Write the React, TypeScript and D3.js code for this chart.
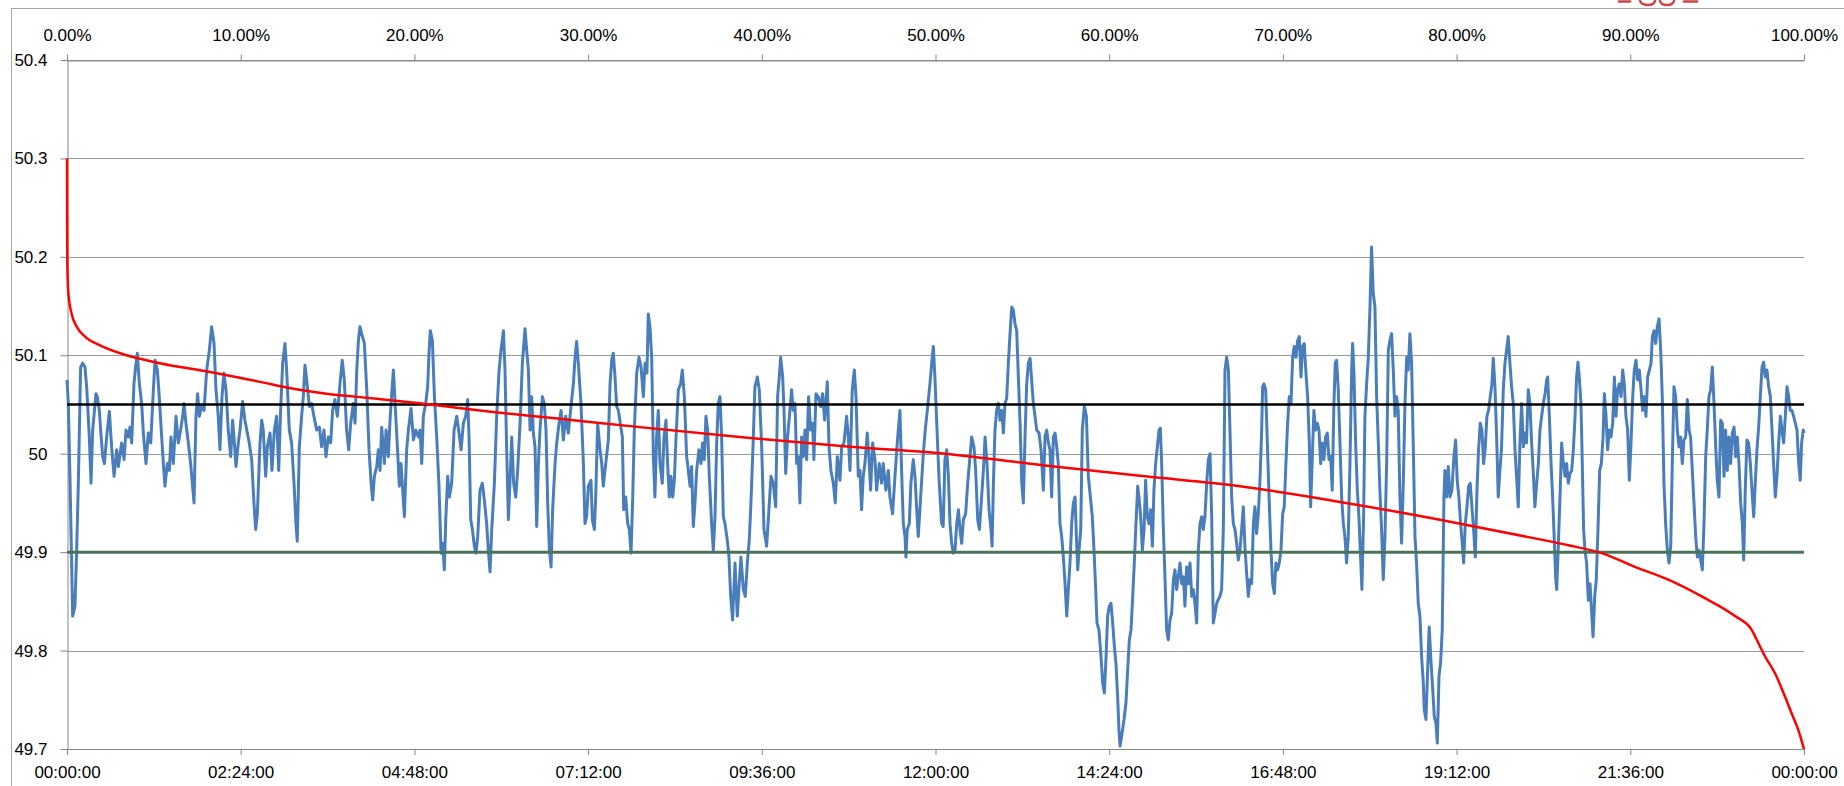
import { useEffect, useRef } from "react";
import * as d3 from "d3";

// grid frequency over one day: [minute of day, Hz]
const trace00to04: [number, number][] = [
  [0, 50.075], [1.1, 50.051], [2.5, 49.973], [4.7, 49.835], [6.6, 49.845], [8, 49.902], [9.4, 49.97], [11.3, 50.088],
  [13, 50.092], [14.9, 50.088], [16.3, 50.068], [18.5, 50.017], [19.9, 49.97], [21.3, 50.024], [24, 50.061], [25.1, 50.058],
  [26.8, 50.044], [27.9, 50.024], [29.6, 49.997], [31, 49.99], [32.9, 50.017], [35.1, 50.043], [37, 50.007], [39, 49.977],
  [41.2, 50.004], [42.6, 49.987], [45.3, 50.011], [47.3, 49.994], [48.9, 50.024], [50.8, 50.017], [52.2, 50.027], [53.6, 50.011],
  [55.5, 50.071], [56.6, 50.085], [58.3, 50.102], [60, 50.071], [61.9, 50.051], [63.3, 50.021], [65.5, 49.99], [67.4, 50.021],
  [69.4, 50.011], [71.6, 50.065], [73, 50.095], [74.9, 50.085], [76.3, 50.061], [78.5, 50.017], [79.9, 49.99], [81.2, 49.967],
  [83.2, 49.99], [84.8, 49.983], [86.2, 50.017], [88.1, 49.99], [90.4, 50.038], [92.3, 50.011], [94.2, 50.024], [95.9, 50.038],
  [97, 50.051], [98.6, 50.031], [100.6, 50.011], [102.5, 49.99], [103.9, 49.97], [105.3, 49.95], [106.9, 50.038], [108.3, 50.061],
  [109.7, 50.038], [111.6, 50.048], [113.6, 50.044], [115.8, 50.085], [118, 50.105], [119.9, 50.129], [121.9, 50.112], [123.5, 50.065],
  [125.4, 50.038], [126.8, 50.004], [128.5, 50.058], [130.1, 50.082], [131.8, 50.065], [133.7, 50.024], [135.7, 49.997], [137.3, 50.034],
  [138.4, 50.017], [140.1, 49.987], [142, 50.011], [143.4, 50.024], [145.6, 50.053], [147.5, 50.034], [149.5, 50.021], [151.1, 50.011],
  [153.1, 49.994], [155, 49.95], [156.4, 49.923], [157.8, 49.939], [160, 50.011], [161.4, 50.034], [162.7, 50.024], [164.7, 49.977],
  [166.1, 50.007], [168.3, 50.021], [169.9, 49.983], [171.9, 50.024], [173.8, 50.038], [175.5, 49.983], [177.1, 50.044], [178.8, 50.092],
  [180.7, 50.112], [182.1, 50.085], [184.3, 50.024], [186.2, 50.011], [188.2, 49.97], [189.8, 49.929], [190.9, 49.911], [192.6, 50.007],
  [194.5, 50.038], [195.9, 50.058], [197.3, 50.09], [198.7, 50.075], [200.9, 50.048], [202.8, 50.051], [204.7, 50.038], [207, 50.024],
  [209.2, 50.027], [211.1, 50.007], [213, 50.024], [214.7, 49.997], [216.6, 50.017], [218.6, 50.011], [220.2, 50.044], [222.1, 50.055],
  [224.1, 50.038], [226.3, 50.071], [228.2, 50.095], [229.9, 50.075], [231.8, 50.024], [233.5, 50.004], [235.2, 50.031], [237.3, 50.051],
];

const trace04to08: [number, number][] = [
  [238.8, 50.031], [240.2, 50.085], [241.6, 50.115], [242.9, 50.129], [244.3, 50.122], [246.5, 50.112], [248.5, 50.065], [250.4, 50.004],
  [252.1, 49.97], [253.4, 49.953], [254.8, 49.977], [256.8, 49.987], [258.1, 50.004], [259.5, 49.983], [260.9, 50.027], [263.1, 49.99],
  [264.5, 50.024], [266.4, 49.997], [267.8, 50.034], [269.2, 50.061], [270.6, 50.085], [272, 50.051], [273.9, 50.007], [275.5, 49.967],
  [276.9, 49.99], [278.3, 49.963], [279.7, 49.936], [281.6, 50.004], [283, 50.024], [285.2, 50.046], [287.2, 50.014], [289.1, 50.024],
  [291.3, 50.017], [292.7, 50.024], [294.1, 49.99], [295.4, 50.038], [297.4, 50.051], [299, 50.068], [300.1, 50.102], [301.2, 50.125],
  [302.9, 50.115], [304.6, 50.058], [306.5, 50.017], [308.4, 49.967], [310.1, 49.899], [311.5, 49.909], [312.8, 49.882], [314, 49.933],
  [315.6, 49.977], [317, 49.956], [318.9, 49.97], [320.9, 50.024], [323.1, 50.038], [325, 50.021], [326.7, 50.004], [328.6, 50.031],
  [330.5, 50.038], [332.2, 50.055], [333.3, 50.017], [334.7, 49.933], [336.1, 49.923], [337.7, 49.906], [339.1, 49.899], [340.5, 49.916],
  [342.4, 49.963], [344.3, 49.97], [346, 49.953], [347.9, 49.929], [349.3, 49.902], [350.7, 49.88], [352.1, 49.923], [354.3, 49.97],
  [356.2, 50.038], [358.2, 50.085], [359.8, 50.105], [361.8, 50.125], [363.1, 50.085], [364.5, 50.004], [365.9, 49.933], [367.3, 49.973],
  [368.7, 50.017], [370.3, 49.97], [372, 49.956], [373.6, 49.983], [375.6, 50.031], [377.5, 50.092], [379.7, 50.127], [381.1, 50.105],
  [382.5, 50.085], [383.9, 50.024], [385.2, 50.058], [386.6, 50.021], [388, 50.007], [389.4, 49.926], [390.8, 49.99], [392.1, 50.024],
  [394.1, 50.058], [395.7, 50.051], [397.1, 50.024], [398.5, 49.95], [399.9, 49.902], [401.3, 49.885], [402.6, 49.943], [404.6, 49.99],
  [406, 50.011], [407.9, 50.031], [409.6, 50.044], [411.5, 50.014], [413.4, 50.038], [415.6, 50.021], [417.8, 50.048], [419.8, 50.071],
  [421.2, 50.098], [422.5, 50.114], [423.9, 50.092], [426.1, 50.051], [428.1, 49.99], [429.4, 49.929], [430.8, 49.936], [432.2, 49.967],
  [434.4, 49.973], [435.5, 49.933], [437.2, 49.923], [438.3, 49.956], [439.9, 50.031], [441.9, 50.004], [443.3, 49.99], [444.6, 49.967],
  [446.6, 49.99], [448.8, 50.014], [450.2, 50.071], [451.6, 50.095], [452.9, 50.102], [454.3, 50.078], [455.7, 50.048], [457.1, 50.044],
  [458.7, 50.031], [460.4, 50.017], [461.5, 49.943], [463.2, 49.956], [464.8, 49.929], [466.2, 49.923], [467.6, 49.899], [469, 49.956],
  [470.3, 50.024], [472.3, 50.082], [474.2, 50.098], [475.9, 50.088], [477.8, 50.058], [479.2, 50.092], [480.8, 50.082], [481.9, 50.142],
  [483.3, 50.129],
];

const trace08to12: [number, number][] = [
  [484.7, 50.098], [486.1, 49.997], [487.4, 49.956], [488.8, 50.017], [490.2, 50.044], [491.6, 49.99], [493.5, 49.97], [494.9, 50.017],
  [496.6, 50.034], [497.9, 49.99], [499.3, 49.956], [500.7, 49.977], [502.1, 49.956], [503.5, 49.973], [504.9, 50.017], [506.8, 50.065],
  [508.7, 50.071], [510.1, 50.085], [511.8, 50.058], [513.7, 49.997], [515.1, 49.983], [516.5, 49.967], [517.8, 49.987], [519.2, 49.926],
  [520.6, 49.95], [522, 49.983], [523.9, 50.004], [525.6, 49.99], [526.9, 50.011], [528.3, 49.994], [529.7, 50.038], [531.1, 50.024],
  [532.5, 49.977], [534.4, 49.929], [535.8, 49.902], [537.2, 49.936], [538.6, 50.011], [539.9, 50.051], [541.3, 50.058], [542.7, 50.017],
  [544.1, 49.936], [545.5, 49.929], [547.4, 49.912], [548.8, 49.895], [550.2, 49.855], [551.8, 49.831], [553.8, 49.889], [555.7, 49.835],
  [557.3, 49.868], [558.7, 49.895], [560.7, 49.862], [562.3, 49.855], [564, 49.889], [565.6, 49.912], [567, 49.95], [569, 50.017],
  [570.3, 50.068], [572.3, 50.078], [573.9, 50.065], [575.9, 50.007], [577.8, 49.923], [580, 49.906], [581.9, 49.943], [583.6, 49.977],
  [585.5, 49.97], [587.5, 49.946], [589.1, 50.058], [590.5, 50.078], [591.6, 50.098], [593.3, 50.078], [594.4, 50.044], [595.8, 49.98],
  [597.4, 50.017], [599.3, 50.044], [600.7, 50.065], [602.1, 50.044], [603.5, 50.051], [604.9, 49.99], [606.3, 49.997], [607.6, 49.95],
  [609, 50.017], [610.4, 49.997], [611.8, 50.024], [613.2, 49.994], [614.8, 50.058], [616.5, 50.024], [618.1, 50.031], [619.2, 49.994],
  [620.9, 50.061], [622.8, 50.058], [624.8, 50.048], [626.4, 50.061], [628.1, 50.034], [630.3, 50.073], [631.7, 50.007], [633.3, 49.983],
  [635.3, 49.97], [636.9, 49.95], [638.6, 49.997], [640.8, 49.973], [642.2, 50.007], [644.1, 50.011], [646.3, 50.038], [647.7, 50.017],
  [649.1, 49.983], [651, 50.065], [652.7, 50.085], [654.1, 50.058], [656, 49.977], [657.4, 49.983], [658.7, 49.943], [660.1, 49.977],
  [661.5, 49.99], [663.4, 50.021], [664.8, 49.997], [666.2, 49.963], [667.9, 50.011], [669.8, 49.994], [671.2, 49.963], [673.4, 49.99],
  [675.3, 49.97], [676.7, 49.99], [678.9, 49.963], [680.9, 49.983], [682.2, 49.956], [684.4, 49.939], [686.4, 49.977], [688.3, 50.011],
  [690.5, 50.044], [691.9, 49.983], [693.3, 49.929], [694.7, 49.916], [695.5, 49.895], [696.6, 49.923], [698.3, 49.929], [699.6, 49.97],
  [701.6, 49.994], [703, 49.977], [704.3, 49.946], [705.7, 49.916], [707.7, 49.956], [709.9, 50.0], [711.5, 50.024], [713.2, 50.044],
  [715.4, 50.071], [717.1, 50.095], [718.2, 50.109], [719.5, 50.078], [721.5, 50.017], [723.1, 49.97], [725.1, 49.929], [726.4, 49.926],
  [727.8, 49.994],
];

const trace12to16: [number, number][] = [
  [729.3, 50.004], [730.7, 49.977], [732, 49.929], [733.4, 49.909], [734.8, 49.899], [736.2, 49.902], [737.6, 49.929], [739, 49.943],
  [740.3, 49.923], [741.7, 49.909], [743.1, 49.933], [745, 49.939], [746.7, 49.97], [748.1, 49.99], [750, 50.017], [751.9, 50.007],
  [753.3, 49.983], [755, 49.933], [756.4, 49.923], [757.7, 49.946], [759.7, 49.983], [761.1, 50.017], [762.7, 49.99], [764.4, 49.943],
  [766, 49.923], [766.9, 49.906], [768, 49.97], [769.3, 50.024], [770.7, 50.044], [772.1, 50.051], [773.5, 50.034], [774.9, 50.044],
  [776.3, 50.021], [777.6, 50.051], [779, 50.056], [780.4, 50.092], [781.8, 50.122], [783.2, 50.149], [784.5, 50.146], [785.9, 50.132],
  [787.3, 50.125], [788.7, 50.078], [790.1, 50.031], [791.5, 49.97], [792.8, 49.95], [794.2, 50.017], [795.6, 50.071], [797, 50.092],
  [798.4, 50.097], [799.7, 50.075], [801.1, 50.051], [802.5, 50.038], [803.9, 50.024], [805.8, 50.021], [807.5, 50.004], [809.4, 49.963],
  [810.8, 50.017], [812.2, 50.024], [813.6, 50.011], [814.9, 50.004], [816.3, 49.956], [817.7, 50.017], [819.1, 50.021], [820.5, 50.007],
  [821.8, 49.99], [823.2, 49.929], [824.6, 49.916], [826, 49.895], [827.4, 49.868], [828.8, 49.835], [830.1, 49.862], [831.5, 49.889],
  [832.9, 49.929], [834.3, 49.95], [835.7, 49.956], [837, 49.909], [837.9, 49.882], [839, 49.902], [840.4, 49.923], [841.7, 50.024],
  [843.4, 50.048], [845.1, 50.038], [846.7, 49.977], [848.4, 49.956], [850, 49.936], [851.4, 49.902], [852.8, 49.862], [853.9, 49.828],
  [855.5, 49.821], [857.2, 49.794], [858.6, 49.767], [860, 49.757], [861.4, 49.794], [862.7, 49.835], [864.1, 49.845], [865.5, 49.848],
  [866.9, 49.828], [868.3, 49.804], [869.6, 49.787], [871, 49.753], [872.1, 49.719], [873, 49.703], [874.3, 49.713], [876.3, 49.73],
  [877.9, 49.747], [879.3, 49.78], [880.7, 49.811], [882.1, 49.821], [883.5, 49.855], [884.8, 49.889], [886.2, 49.929], [887.6, 49.967],
  [888.7, 49.956], [890.1, 49.936], [891.5, 49.902], [892.9, 49.923], [894.2, 49.973], [895.6, 49.936], [897, 49.929], [898.4, 49.943],
  [899.8, 49.906], [901.1, 49.963], [902.5, 49.99], [903.9, 50.007], [905.3, 50.024], [906.4, 50.026], [907.5, 49.99], [908.9, 49.923],
  [910.3, 49.872], [911.6, 49.821], [913, 49.811], [914.4, 49.831], [915.8, 49.838], [917.2, 49.872], [918.5, 49.882], [919.9, 49.862],
  [921.3, 49.875], [922.7, 49.889], [924.1, 49.868], [925.5, 49.875], [926.8, 49.845], [928.2, 49.885], [929.6, 49.868], [931, 49.889],
  [932.4, 49.855], [933.7, 49.862], [935.1, 49.848], [936.5, 49.828], [937.9, 49.902], [939.3, 49.929], [940.7, 49.936], [942, 49.923],
  [943.4, 49.936], [944.8, 49.97], [946.2, 49.994], [947.6, 50.0], [948.9, 49.939], [950.3, 49.828], [951.7, 49.838], [953.1, 49.848],
  [954.5, 49.852], [955.8, 49.855], [957.2, 49.862], [958.6, 49.923], [960, 50.085], [961.4, 50.098], [962.8, 50.085], [964.1, 50.024],
  [965.5, 49.956], [966.9, 49.929], [968.3, 49.923], [969.7, 49.909], [971, 49.892], [972.4, 49.902],
];

const trace16to20: [number, number][] = [
  [973.8, 49.923], [975.2, 49.946], [976.5, 49.906], [977.9, 49.879], [979.3, 49.855], [980.7, 49.872], [982.1, 49.868], [983.5, 49.929],
  [984.8, 49.946], [986.2, 49.919], [987.6, 49.939], [989, 49.973], [990.4, 50.024], [991.2, 50.068], [992.3, 50.071], [993.7, 50.065],
  [995.1, 50.011], [996.7, 49.95], [998.1, 49.902], [999.5, 49.868], [1000.9, 49.858], [1002.2, 49.889], [1003.6, 49.882], [1005, 49.889],
  [1006.4, 49.902], [1007.8, 49.939], [1009.1, 49.946], [1010.5, 49.99], [1011.9, 50.031], [1013.3, 50.058], [1014.7, 50.051], [1016.1, 50.098],
  [1017.4, 50.109], [1018.8, 50.098], [1020.2, 50.115], [1021.6, 50.119], [1023, 50.078], [1024.3, 50.109], [1025.7, 50.112], [1027.1, 50.082],
  [1028.5, 50.058], [1029.9, 50.011], [1031, 49.946], [1032.4, 49.997], [1033.7, 50.044], [1035.1, 50.024], [1036.5, 50.031], [1037.9, 50.024],
  [1039.3, 49.99], [1040.6, 50.011], [1042, 49.994], [1043.4, 50.017], [1044.8, 50.021], [1046.2, 49.994], [1047.6, 49.997], [1048.9, 49.963],
  [1050.3, 50.051], [1051.4, 50.092], [1052.5, 50.095], [1053.9, 50.065], [1055.3, 50.011], [1056.7, 49.956], [1058.1, 49.929], [1059.4, 49.916],
  [1060.8, 49.889], [1062.2, 49.916], [1063.6, 49.99], [1065, 50.085], [1065.8, 50.112], [1066.9, 50.082], [1068.3, 50.011], [1069.7, 49.963],
  [1071, 49.936], [1072.4, 49.895], [1073.5, 49.862], [1074.9, 49.936], [1076, 50.038], [1077.4, 50.071], [1078.8, 50.098], [1080.2, 50.149],
  [1081.5, 50.21], [1082.9, 50.163], [1084.3, 50.149], [1085.7, 50.058], [1087.1, 50.011], [1088.4, 49.963], [1089.8, 49.923], [1091.2, 49.872],
  [1092.6, 49.916], [1094, 49.99], [1095.4, 50.105], [1096.7, 50.115], [1098.1, 50.122], [1099.5, 50.085], [1100.9, 50.038], [1102.3, 50.058],
  [1103.6, 50.044], [1105, 49.956], [1106.4, 49.909], [1107.8, 49.97], [1109.2, 50.051], [1110.6, 50.098], [1111.9, 50.085], [1113.3, 50.122],
  [1114.7, 50.092], [1116.1, 50.007], [1117.5, 49.916], [1118.8, 49.889], [1120.2, 49.848], [1121.6, 49.835], [1123, 49.794], [1124.4, 49.767],
  [1125.2, 49.74], [1126.6, 49.73], [1127.9, 49.777], [1129.3, 49.824], [1130.7, 49.79], [1132.1, 49.763], [1133.5, 49.733], [1134.9, 49.726],
  [1136, 49.706], [1137.4, 49.774], [1138.7, 49.787], [1140.1, 49.821], [1141.5, 49.956], [1142.3, 49.983], [1143.7, 49.956], [1145.1, 49.987],
  [1146.5, 49.956], [1148.1, 49.963], [1149.8, 49.997], [1151.2, 50.014], [1152.5, 49.973], [1153.9, 49.956], [1155.3, 49.929], [1156.7, 49.909],
  [1157.8, 49.889], [1159.2, 49.929], [1160.6, 49.946], [1162, 49.967], [1163.3, 49.97], [1164.7, 49.946], [1166.1, 49.923], [1167.5, 49.895],
  [1168.9, 49.963], [1170.2, 50.004], [1171.6, 50.031], [1173, 50.024], [1174.4, 49.99], [1175.8, 50.007], [1177.1, 50.038], [1178.5, 50.044],
  [1179.9, 50.058], [1181.3, 50.071], [1182.4, 50.097], [1183.8, 50.068], [1185.2, 50.017], [1186.5, 49.956], [1187.9, 49.983], [1189.3, 50.007],
  [1190.7, 50.065], [1192.1, 50.092], [1193.4, 50.105], [1194.8, 50.119], [1196.2, 50.092], [1197.6, 50.068], [1199, 50.051], [1200.4, 50.004],
  [1201.7, 49.977], [1203.1, 49.946], [1204.5, 50.011], [1205.9, 50.051], [1207.3, 50.007], [1208.6, 50.021], [1210, 50.011], [1211.4, 50.065],
  [1212.8, 50.051], [1214.2, 50.011], [1215.5, 49.983], [1216.9, 49.946],
];

const trace20to24: [number, number][] = [
  [1218.4, 49.97], [1219.8, 49.99], [1221.1, 50.024], [1222.5, 50.038], [1223.9, 50.051], [1225.3, 50.061], [1226.7, 50.075], [1227.5, 50.078],
  [1228.9, 50.038], [1230.3, 49.99], [1231.6, 49.956], [1233, 49.912], [1234.1, 49.875], [1235, 49.862], [1236.3, 49.906], [1237.7, 49.956],
  [1239.1, 50.011], [1240.5, 49.99], [1241.9, 49.977], [1243.2, 49.99], [1244.6, 49.97], [1246, 49.98], [1247.4, 49.983], [1248.8, 50.004],
  [1250.2, 50.038], [1251.5, 50.078], [1252.6, 50.093], [1253.7, 50.078], [1255.1, 50.051], [1256.2, 49.99], [1257.3, 49.923], [1258.4, 49.902],
  [1259.8, 49.889], [1261.2, 49.851], [1262.6, 49.868], [1264, 49.838], [1265.1, 49.814], [1266.5, 49.855], [1267.8, 49.872], [1269.2, 49.923],
  [1270.6, 49.983], [1272, 49.99], [1273.4, 50.017], [1274.5, 50.061], [1275.9, 50.038], [1277.2, 50.004], [1278.6, 50.024], [1280, 50.017],
  [1281.4, 50.031], [1282.8, 50.078], [1284.1, 50.038], [1285.5, 50.065], [1286.9, 50.071], [1288.3, 50.058], [1289.7, 50.085], [1291, 50.071],
  [1292.4, 50.038], [1293.8, 50.024], [1295.2, 49.973], [1296.6, 50.011], [1298, 50.058], [1299.3, 50.085], [1300.7, 50.095], [1302.1, 50.075],
  [1303.5, 50.085], [1304.9, 50.065], [1306.2, 50.044], [1307.6, 50.058], [1309, 50.038], [1310.4, 50.078], [1311.8, 50.085], [1313.2, 50.092],
  [1314.3, 50.119], [1315.6, 50.125], [1317, 50.112], [1318.4, 50.129], [1319.8, 50.137], [1321.2, 50.105], [1322.5, 50.058], [1323.9, 49.97],
  [1325.3, 49.929], [1326.7, 49.902], [1328.1, 49.889], [1329.5, 49.906], [1330.8, 49.99], [1332.2, 50.068], [1333.6, 50.058], [1335, 50.024],
  [1336.4, 50.007], [1337.7, 50.017], [1339.1, 49.99], [1340.5, 50.014], [1341.9, 50.017], [1343.3, 50.055], [1344.7, 50.024], [1346, 50.017],
  [1347.4, 49.983], [1348.8, 49.95], [1350.2, 49.916], [1351.6, 49.895], [1352.9, 49.902], [1354.3, 49.892], [1355.7, 49.882], [1357.1, 49.929],
  [1358.5, 49.997], [1359.8, 50.024], [1361.2, 50.058], [1362.6, 50.065], [1364, 50.088], [1365.4, 50.051], [1366.8, 50.007], [1368.1, 49.973],
  [1369.5, 49.956], [1370.9, 50.034], [1372.3, 50.031], [1373.7, 49.977], [1375, 50.024], [1376.4, 49.983], [1377.8, 50.017], [1379.2, 49.99],
  [1380.6, 50.021], [1382, 50.027], [1383.3, 49.997], [1384.7, 50.017], [1386.1, 49.99], [1387.5, 49.95], [1388.9, 49.929], [1390, 49.892],
  [1391.3, 49.963], [1392.7, 50.014], [1394.1, 50.011], [1395.5, 49.99], [1396.9, 49.963], [1398.3, 49.936], [1399.6, 49.97], [1401, 50.004],
  [1402.4, 50.027], [1403.8, 50.058], [1405.2, 50.088], [1406.5, 50.093], [1407.9, 50.078], [1409.3, 50.085], [1410.7, 50.068], [1412.1, 50.058],
  [1413.5, 50.024], [1414.8, 49.99], [1416.2, 49.956], [1417.6, 49.977], [1419, 50.011], [1420.4, 50.038], [1421.7, 50.024], [1423.1, 50.011],
  [1424.5, 50.038], [1425.9, 50.068], [1427.3, 50.058], [1428.6, 50.044], [1430, 50.044], [1431.4, 50.038], [1432.8, 50.031], [1434.2, 50.024],
  [1435.6, 49.99], [1436.9, 49.973], [1438, 50.011], [1439.4, 50.024], [1440, 50.021],
];

// duration curve (share of time at or above a frequency)
const durationPct = [
  0, 0.005, 0.01, 0.02, 0.08, 0.27, 0.56, 1.04, 1.9, 3.43, 5.35, 8.23, 11.11, 13.03, 14.95, 16.58, 20.42, 24.26, 28.1,
  33.55, 39.32, 45.07, 50.55, 56.3, 62.06, 67.53, 73.29, 79.04, 84.51, 86.43, 88.35, 90.27, 92.19, 94.11, 96.03, 96.99,
  97.28, 97.76, 98.33, 98.91, 99.29, 99.68, 100,
];
const durationHz = [
  50.3, 50.26, 50.227, 50.193, 50.163, 50.142, 50.129, 50.119, 50.11, 50.1, 50.092, 50.083, 50.073, 50.066, 50.061,
  50.058, 50.051, 50.043, 50.036, 50.026, 50.016, 50.007, 50.0, 49.988, 49.977, 49.967, 49.951, 49.933, 49.914, 49.907,
  49.899, 49.885, 49.872, 49.855, 49.835, 49.821, 49.811, 49.794, 49.777, 49.753, 49.736, 49.719, 49.7,
];

const upperBand = 50.05;
const lowerBand = 49.9;

const yTicks = [49.7, 49.8, 49.9, 50, 50.1, 50.2, 50.3, 50.4];
const timeTicks = [0, 144, 288, 432, 576, 720, 864, 1008, 1152, 1296, 1440];
const pctTicks = [0, 10, 20, 30, 40, 50, 60, 70, 80, 90, 100];

const W = 1844;
const H = 786;
const margin = { top: 60, right: 40, bottom: 37, left: 67 };
const FONT = "'Liberation Sans', Arial, sans-serif";

const fmtTime = (m: number) => {
  const h = Math.floor(m / 60) % 24;
  const mm = Math.round(m % 60);
  return `${String(h).padStart(2, "0")}:${String(mm).padStart(2, "0")}:00`;
};

export default function App() {
  const topRef = useRef<SVGGElement>(null);
  const bottomRef = useRef<SVGGElement>(null);
  const leftRef = useRef<SVGGElement>(null);

  const x = d3.scaleLinear().domain([0, 1440]).range([margin.left, W - margin.right]);
  const xPct = d3.scaleLinear().domain([0, 100]).range([margin.left, W - margin.right]);
  const y = d3.scaleLinear().domain([49.7, 50.4]).range([H - margin.bottom, margin.top]);

  const trace = [...trace00to04, ...trace04to08, ...trace08to12, ...trace12to16, ...trace16to20, ...trace20to24];
  const blueLine = d3
    .line<[number, number]>()
    .x((d) => x(d[0]))
    .y((d) => y(d[1]));
  const redLine = d3
    .line<number>()
    .x((_, i) => xPct(durationPct[i]))
    .y((d) => y(d))
    .curve(d3.curveMonotoneX);

  useEffect(() => {
    const style = (g: d3.Selection<SVGGElement, unknown, null, undefined>) => {
      g.attr("font-family", FONT).attr("font-size", 17);
      g.selectAll(".tick line").attr("stroke", "#868686");
      g.selectAll(".domain").attr("stroke", "#868686");
      g.selectAll("text").attr("fill", "#000");
    };
    d3.select(topRef.current!)
      .call(
        d3
          .axisTop(xPct)
          .tickValues(pctTicks)
          .tickSize(6)
          .tickPadding(14)
          .tickSizeOuter(0)
          .tickFormat((d) => `${(+d).toFixed(2)}%`),
      )
      .call(style);
    d3.select(bottomRef.current!)
      .call(
        d3
          .axisBottom(x)
          .tickValues(timeTicks)
          .tickSize(6)
          .tickPadding(11)
          .tickSizeOuter(0)
          .tickFormat((d) => fmtTime(+d)),
      )
      .call(style);
    d3.select(leftRef.current!)
      .call(
        d3
          .axisLeft(y)
          .tickValues(yTicks)
          .tickSize(7)
          .tickPadding(13)
          .tickSizeOuter(0)
          .tickFormat((d) => String(+(+d).toFixed(1))),
      )
      .call(style);
  }, []);

  return (
    <svg width={W} height={H} style={{ position: "absolute", left: 0, top: 0, background: "#fff" }}>
      <rect x={11.5} y={8.5} width={W} height={H} fill="none" stroke="#a6a6a6" />
      {/* bottom edge of a red logo cut off by the top of the page */}
      <g fill="none" stroke="#c84646" strokeWidth={2.5} strokeLinecap="round">
        <path d="M1619,1.5 H1630" />
        <path d="M1640,1 Q1642,5 1648,5 Q1654,5 1655,1" />
        <path d="M1660,1 Q1661,5 1667,5 Q1673,5 1674,1" />
        <path d="M1684,1.5 H1697" />
      </g>
      <g>
        {yTicks.map((t) => (
          <line
            key={t}
            x1={margin.left}
            x2={W - margin.right}
            y1={Math.round(y(t)) + 0.5}
            y2={Math.round(y(t)) + 0.5}
            stroke="#9a9a9a"
          />
        ))}
      </g>
      <g ref={topRef} transform={`translate(0,${margin.top + 0.5})`} />
      <g ref={bottomRef} transform={`translate(0,${H - margin.bottom})`} />
      <g ref={leftRef} transform={`translate(${margin.left + 0.5},0)`} />
      <path d={blueLine(trace) ?? ""} fill="none" stroke="#4a7ebb" strokeWidth={3} strokeLinejoin="round" />
      <line x1={x(0)} x2={x(1440)} y1={y(upperBand)} y2={y(upperBand)} stroke="#000" strokeWidth={2.4} />
      <line x1={x(0)} x2={x(1440)} y1={y(lowerBand)} y2={y(lowerBand)} stroke="#4a735a" strokeWidth={3} />
      <path d={redLine(durationHz) ?? ""} fill="none" stroke="#ff0000" strokeWidth={2.5} strokeLinejoin="round" />
    </svg>
  );
}
